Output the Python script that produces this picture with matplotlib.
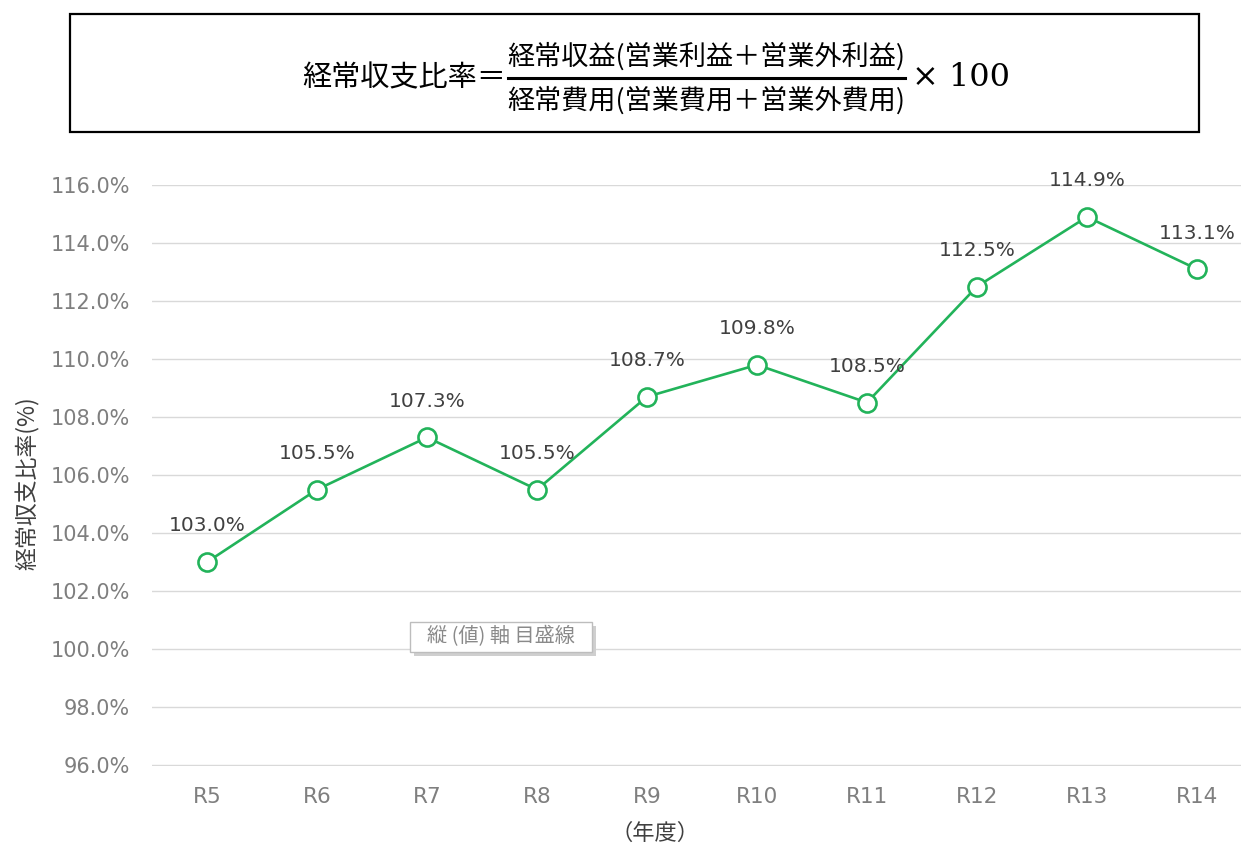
import matplotlib
matplotlib.use('Agg')
import matplotlib.pyplot as plt
from matplotlib.patches import Rectangle
from matplotlib.lines import Line2D

plt.rcParams['font.family'] = ['Noto Sans CJK JP', 'DejaVu Sans']

years = ['R5', 'R6', 'R7', 'R8', 'R9', 'R10', 'R11', 'R12', 'R13', 'R14']
ratio = [103.0, 105.5, 107.3, 105.5, 108.7, 109.8, 108.5, 112.5, 114.9, 113.1]
yticks = [96, 98, 100, 102, 104, 106, 108, 110, 112, 114, 116]

W, H = 1241, 846
green = '#22b35a'


def fx(px):
    return px / W


def fy(py):
    return 1 - py / H


fig = plt.figure(figsize=(W / 100, H / 100), dpi=100)
fig.patch.set_facecolor('white')

# formula box at the top
fig.patches.append(Rectangle((fx(70), fy(132)), fx(1199) - fx(70), fy(14) - fy(132),
                             transform=fig.transFigure, fill=False,
                             edgecolor='black', linewidth=1.6))
fig.text(fx(506), fy(78), '経常収支比率＝', ha='right', va='center',
         fontsize=21, color='black')
fig.text(fx(706), fy(56), '経常収益(営業利益＋営業外利益)', ha='center', va='center',
         fontsize=19.5, color='black')
fig.text(fx(706), fy(100), '経常費用(営業費用＋営業外費用)', ha='center', va='center',
         fontsize=19.5, color='black')
fig.lines.append(Line2D([fx(508), fx(905)], [fy(78), fy(78)],
                        transform=fig.transFigure, color='black', linewidth=2.2))
fig.text(fx(912), fy(77), '× 100', ha='left', va='center',
         fontsize=23, family='DejaVu Serif', color='black')

# main line chart
ax = fig.add_axes([fx(152), fy(766), 1 - fx(152), fy(185) - fy(766)])
x = list(range(len(years)))
ax.plot(x, ratio, color=green, linewidth=1.9, marker='o', markersize=13,
        markerfacecolor='white', markeredgecolor=green, markeredgewidth=1.9,
        zorder=3, clip_on=False)

for xi, v in zip(x, ratio):
    ax.annotate(f'{v:.1f}%', (xi, v), xytext=(0, 26), textcoords='offset points',
                ha='center', va='center', fontsize=14.5, color='#404040',
                family='DejaVu Sans')

ax.set_xlim(-0.5, 9.4)
ax.set_ylim(95.97, 116)
ax.set_yticks(yticks)
ax.set_yticklabels([f'{t:.1f}%' for t in yticks], family='DejaVu Sans')
ax.set_xticks(x)
ax.set_xticklabels(years, family='DejaVu Sans')
ax.tick_params(axis='y', length=0, pad=16, labelsize=15, labelcolor='#7f7f7f')
ax.tick_params(axis='x', length=0, pad=15, labelsize=15.5, labelcolor='#7f7f7f')
ax.grid(axis='y', color='#d9d9d9', linewidth=1)
ax.set_axisbelow(True)
for s in ax.spines.values():
    s.set_visible(False)

fig.text(fx(28), fy(483), '経常収支比率(%)', rotation=90, ha='center', va='center',
         fontsize=16.5, color='#404040')
fig.text(fx(655), fy(833), '（年度）', ha='center', va='center',
         fontsize=16, color='#404040')

# hover tip over the gridline
fig.patches.append(Rectangle((fx(414), fy(656)), fx(592) - fx(410), fy(622) - fy(652),
                             transform=fig.transFigure, facecolor='#cfcfcf',
                             edgecolor='none', zorder=5))
fig.patches.append(Rectangle((fx(410), fy(652)), fx(592) - fx(410), fy(622) - fy(652),
                             transform=fig.transFigure, facecolor='white',
                             edgecolor='#bdbdbd', linewidth=1, zorder=6))
fig.text(fx(501), fy(637), '縦 (値) 軸 目盛線', ha='center', va='center',
         fontsize=14.5, color='#8a8a8a', zorder=7)

fig.savefig('out.png', dpi=100)
